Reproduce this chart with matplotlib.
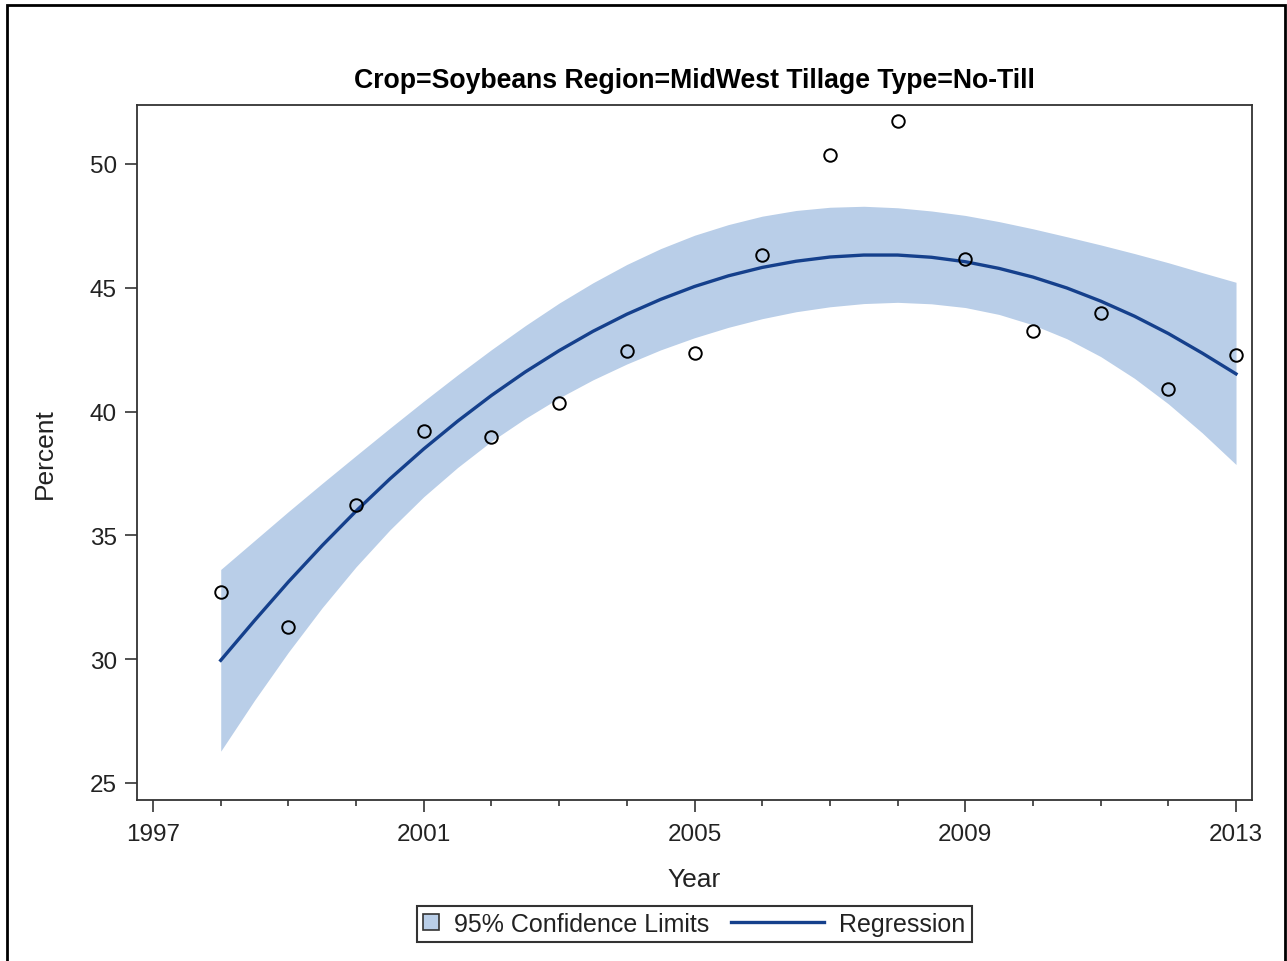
import numpy as np
import matplotlib.pyplot as plt
from matplotlib.lines import Line2D
from matplotlib.patches import Patch, Rectangle
from matplotlib.legend_handler import HandlerBase
from matplotlib.ticker import FixedLocator, MultipleLocator

plt.rcParams.update({
    "font.family": ["Liberation Sans", "DejaVu Sans"],
    "font.size": 17.5,
})

# ------------------------- data ----------------------------------------------
years = [1998, 1999, 2000, 2001, 2002, 2003, 2004, 2005,
         2006, 2007, 2008, 2009, 2010, 2011, 2012, 2013]
percent = [32.73, 31.29, 36.23, 39.22, 38.96, 40.35, 42.44, 42.35,
           46.32, 50.36, 51.74, 46.16, 43.26, 43.97, 40.90, 42.27]

# regression curve and 95% limits, every half year
curve_years = np.arange(1998, 2013.01, 0.5)
fit = [29.95, 31.56, 33.12, 34.59, 35.98, 37.28, 38.49, 39.61,
       40.65, 41.60, 42.46, 43.24, 43.93, 44.53, 45.05, 45.48,
       45.82, 46.07, 46.24, 46.32, 46.32, 46.23, 46.05, 45.78,
       45.43, 44.99, 44.46, 43.85, 43.15, 42.36, 41.52]
lower = [26.28, 28.34, 30.28, 32.08, 33.73, 35.22, 36.56, 37.74,
         38.80, 39.72, 40.55, 41.28, 41.92, 42.49, 42.98, 43.40,
         43.75, 44.03, 44.23, 44.36, 44.41, 44.35, 44.20, 43.92,
         43.50, 42.94, 42.22, 41.34, 40.31, 39.14, 37.86]
upper = [33.62, 34.79, 35.96, 37.10, 38.22, 39.33, 40.42, 41.48,
         42.50, 43.47, 44.38, 45.20, 45.94, 46.58, 47.12, 47.55,
         47.89, 48.12, 48.25, 48.29, 48.23, 48.10, 47.92, 47.67,
         47.38, 47.06, 46.73, 46.38, 46.01, 45.61, 45.22]

band_color = '#b9cee8'
line_color = '#15408c'


class LongLineHandler(HandlerBase):
    # legend line that reaches back into the column gap, like SAS draws it
    def create_artists(self, legend, orig_handle, xdescent, ydescent,
                       width, height, fontsize, trans):
        ext = 3.1 * fontsize
        y = (height - ydescent) / 2
        ln = Line2D([-xdescent - ext, width - xdescent], [y, y],
                    color=line_color, lw=2.4)
        ln.set_transform(trans)
        return [ln]


fig = plt.figure(figsize=(12.87, 9.62), dpi=100)
ax = fig.add_axes([0.1065, 0.1674, 0.8663, 0.7224])

ax.fill_between(curve_years, lower, upper, color=band_color, lw=0, zorder=1)
ax.plot(curve_years, fit, color=line_color, lw=2.4, zorder=2)
ax.plot(years, percent, 'o', ms=9, mfc='none', mec='black', mew=1.4,
        zorder=3)

ax.set_xlim(1996.764, 2013.236)
ax.set_ylim(24.31, 52.38)
ax.xaxis.set_major_locator(FixedLocator([1997, 2001, 2005, 2009, 2013]))
ax.xaxis.set_minor_locator(MultipleLocator(1))
ax.yaxis.set_major_locator(MultipleLocator(5))
ax.tick_params(axis='both', which='major', direction='out', length=8.5,
               width=1.2, color='#333333', labelsize=17.5, pad=6,
               labelcolor='#222222')
ax.tick_params(axis='x', which='major', pad=8)
ax.tick_params(axis='x', which='minor', direction='out', length=4.5,
               width=1.2, color='#333333')
for sp in ax.spines.values():
    sp.set_linewidth(1.3)
    sp.set_color('#333333')

ax.set_xlabel('Year', fontsize=19, labelpad=16, color='#222222')
ax.set_ylabel('Percent', fontsize=19, labelpad=24, color='#222222')
ax.set_title('Crop=Soybeans Region=MidWest Tillage Type=No-Till',
             fontsize=19.2, fontweight='bold', pad=13)

handles = [Patch(facecolor=band_color, edgecolor='#333333', lw=1.2),
           Line2D([], [], color=line_color, lw=2.4)]
leg = fig.legend(handles, ['95% Confidence Limits', 'Regression'],
                 loc='center', bbox_to_anchor=(0.5395, 0.0385), ncol=2,
                 handlelength=0.64, handleheight=0.64, handletextpad=0.6,
                 columnspacing=3.96, borderpad=0.25, fancybox=False,
                 edgecolor='black', fontsize=18,
                 handler_map={Line2D: LongLineHandler()})
leg.get_frame().set_linewidth(1.5)
for t in leg.get_texts():
    t.set_color('#222222')

# outer graph border (open at the bottom, as in the source image)
fig.patches.append(Rectangle((0.0054, -0.05), 0.9930, 1.0438, fill=False,
                             lw=2, edgecolor='black',
                             transform=fig.transFigure, figure=fig))

plt.savefig('out.png', dpi=100)
